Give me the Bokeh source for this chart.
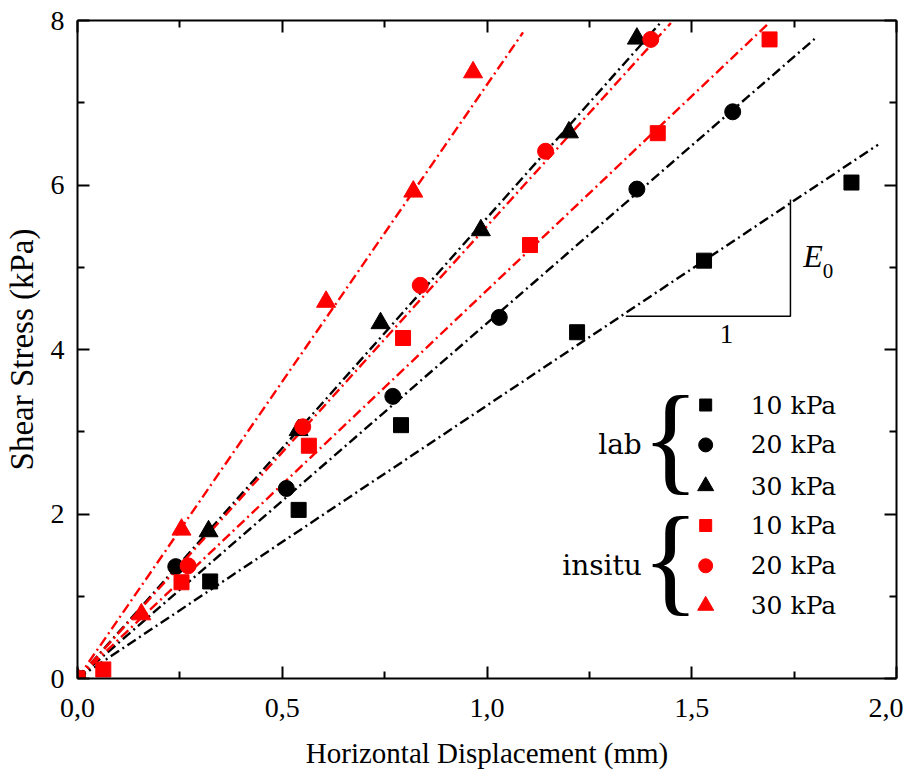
import numpy as np
from bokeh.plotting import figure
from bokeh.models import Range1d, LinearAxis, FixedTicker, CustomJSTickFormatter, BoxAnnotation
from bokeh.core.properties import value
from bokeh.embed import file_html
from bokeh.resources import INLINE

# ---- data ----
lab10_x = [0, 0.324, 0.54, 0.79, 1.22, 1.53, 1.89]
lab10_y = [0, 1.18, 2.05, 3.08, 4.21, 5.08, 6.03]
lab20_x = [0, 0.24, 0.51, 0.77, 1.03, 1.366, 1.60]
lab20_y = [0, 1.36, 2.31, 3.43, 4.39, 5.95, 6.89]
lab30_x = [0, 0.32, 0.54, 0.74, 0.985, 1.20, 1.366]
lab30_y = [0, 1.79, 3.02, 4.32, 5.45, 6.64, 7.78]
ins10_x = [0, 0.063, 0.254, 0.565, 0.795, 1.105, 1.417, 1.69]
ins10_y = [0, 0.11, 1.17, 2.83, 4.14, 5.27, 6.63, 7.77]
ins20_x = [0, 0.27, 0.55, 0.837, 1.143, 1.40]
ins20_y = [0, 1.37, 3.06, 4.78, 6.41, 7.77]
ins30_x = [0, 0.156, 0.254, 0.607, 0.82, 0.966]
ins30_y = [0, 0.78, 1.81, 4.58, 5.92, 7.37]

# fitted straight lines through origin: slopes and end x
lab_slopes = [3.32, 4.32, 5.60]
lab_xend = [1.955, 1.80, 1.424]
ins_slopes = [4.72, 5.50, 7.22]
ins_xend = [1.69, 1.449, 1.088]

pressure_labels = ["10 kPa", "20 kPa", "30 kPa"]
group_labels = ["lab", "insitu"]
x_ticks = [0, 0.5, 1.0, 1.5, 2.0]
x_minor = [0.25, 0.75, 1.25, 1.75]
y_ticks = [0, 2, 4, 6, 8]
y_minor = [1, 3, 5, 7]

BLACK = "#000000"
RED = "#ff0000"
SERIF = "Liberation Serif"

p = figure(width=903, height=771, x_range=Range1d(0, 2), y_range=Range1d(0, 8),
           output_backend="svg", toolbar_location=None,
           min_border_left=76, min_border_right=7, min_border_top=20, min_border_bottom=92)
p.xgrid.visible = False
p.ygrid.visible = False
p.outline_line_color = None

bx = p.below[0]
ly = p.left[0]
bx.ticker = FixedTicker(ticks=x_ticks, minor_ticks=x_minor)
bx.formatter = CustomJSTickFormatter(code="return tick.toFixed(1).replace('.', ',');")
ly.ticker = FixedTicker(ticks=y_ticks, minor_ticks=y_minor)
bx.axis_label = "Horizontal Displacement (mm)"
ly.axis_label = "Shear Stress (kPa)"

blank = CustomJSTickFormatter(code="return '';")
top = LinearAxis(ticker=FixedTicker(ticks=x_ticks, minor_ticks=x_minor), formatter=blank,
                 major_label_standoff=0)
right = LinearAxis(ticker=FixedTicker(ticks=y_ticks, minor_ticks=y_minor), formatter=blank,
                   major_label_standoff=0)
p.add_layout(top, "above")
p.add_layout(right, "right")

for ax in (bx, ly, top, right):
    ax.axis_line_width = 2
    ax.axis_line_color = BLACK
    ax.major_tick_in = 12
    ax.major_tick_out = 0
    ax.minor_tick_in = 7
    ax.minor_tick_out = 0
    ax.major_tick_line_width = 2
    ax.minor_tick_line_width = 2
    ax.major_tick_line_color = BLACK
    ax.minor_tick_line_color = BLACK
    ax.major_label_text_font = SERIF
    ax.major_label_text_color = BLACK
    ax.axis_label_text_font = SERIF
    ax.axis_label_text_font_style = "normal"
    ax.axis_label_text_color = BLACK

bx.major_label_text_font_size = "28px"
bx.major_label_standoff = 20
bx.axis_label_text_font_size = "29px"
bx.axis_label_standoff = 17
ly.major_label_text_font_size = "28px"
ly.major_label_standoff = 13
ly.axis_label_text_font_size = "33px"
ly.axis_label_standoff = 8

DASH = "10 4 2 4"
# fit lines
for slopes, xend, col in ((lab_slopes, lab_xend, BLACK), (ins_slopes, ins_xend, RED)):
    for s, xe in zip(slopes, xend):
        xs = np.array([0.0, xe])
        p.line(xs, s * xs, line_color=col, line_width=2.4, line_dash=DASH)

# data markers
series = [
    (lab10_x, lab10_y, "square", BLACK, 15),
    (lab20_x, lab20_y, "circle", BLACK, 16),
    (lab30_x, lab30_y, "triangle", BLACK, 19),
    (ins10_x, ins10_y, "square", RED, 15),
    (ins20_x, ins20_y, "circle", RED, 16),
    (ins30_x, ins30_y, "triangle", RED, 19),
]
for xs, ys, mk, col, sz in series:
    p.scatter(xs, ys, marker=mk, size=sz, fill_color=col, line_color=col)

# legend (drawn manually with marker, text, brace)
leg_mx = 1.534
leg_tx = 1.644
leg_rows = [3.325, 2.84, 2.34, 1.86, 1.37, 0.886]
leg_markers = ["square", "circle", "triangle"] * 2
leg_colors = [BLACK] * 3 + [RED] * 3
leg_sizes = [12, 14, 16, 12, 14, 16]
p.scatter([leg_mx] * 6, leg_rows, marker=leg_markers, size=leg_sizes,
          fill_color=leg_colors, line_color=leg_colors)
p.text([leg_tx] * 6, leg_rows, text=pressure_labels * 2, text_font=value("DejaVu Serif"),
       text_font_size="25px", text_align="left", text_baseline="middle", text_color=BLACK)
p.text([1.378, 1.378], [leg_rows[1], leg_rows[4]], text=group_labels,
       text_font=value("DejaVu Serif"), text_font_size="28px",
       text_align="right", text_baseline="middle", text_color=BLACK)
p.text([1.448, 1.448], [leg_rows[1] + 0.08, leg_rows[4] + 0.08], text=["{", "{"],
       text_font=value(SERIF), text_font_size="120px",
       text_align="center", text_baseline="middle", text_color=BLACK)

# E0 slope triangle
tri_x0, tri_x1, tri_y0, tri_y1 = 1.339, 1.741, 4.405, 5.825
p.line([tri_x0, tri_x1, tri_x1], [tri_y0, tri_y0, tri_y1], line_color=BLACK, line_width=1.5)
p.text([1.772], [5.14], text=["E"], text_font=value(SERIF), text_font_style="italic",
       text_font_size="32px", text_align="left", text_baseline="middle", text_color=BLACK)
p.text([1.82], [4.95], text=["0"], text_font=value(SERIF),
       text_font_size="21px", text_align="left", text_baseline="middle", text_color=BLACK)
p.text([1.585], [4.19], text=["1"], text_font=value(SERIF),
       text_font_size="27px", text_align="center", text_baseline="middle", text_color=BLACK)

# thick stroke on the right frame edge seen in the source
p.add_layout(BoxAnnotation(left=2.0, right=2.006, bottom=2.74, top=4.09,
                           fill_color=BLACK, fill_alpha=1, line_color=None))

open("out.html", "w").write(file_html(p, INLINE))
